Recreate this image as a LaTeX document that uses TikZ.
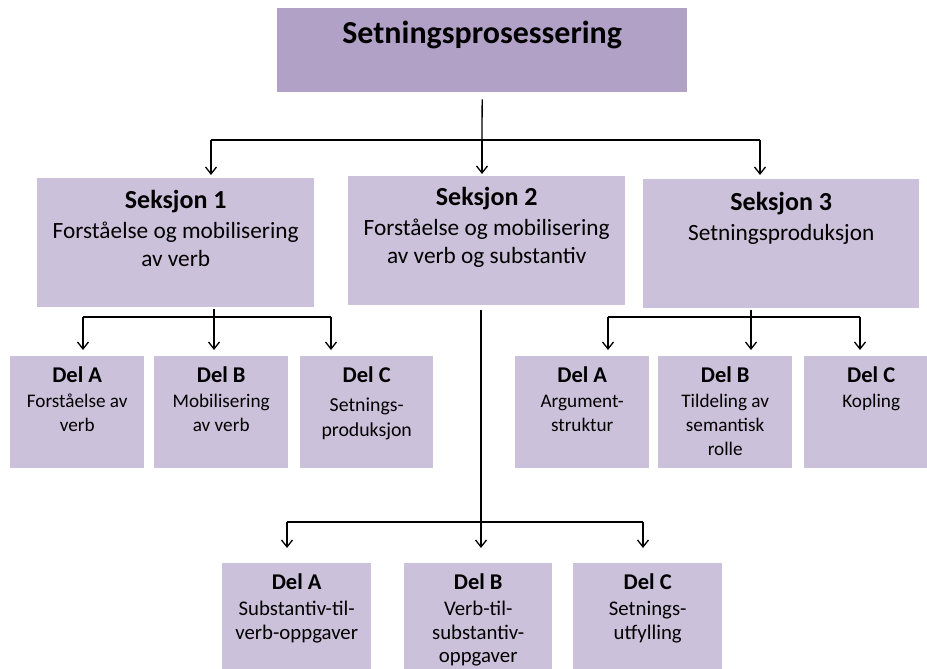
\documentclass[tikz,border=0pt]{standalone}
\usepackage{fontspec}
\setmainfont{Carlito}
\usetikzlibrary{arrows.meta}
\definecolor{boxdark}{HTML}{B2A1C7}
\definecolor{boxlight}{HTML}{CCC1DA}
\newcommand{\sechd}[1]{{\bfseries\fontsize{26}{28}\selectfont #1}}
\newcommand{\delhd}[1]{{\bfseries\fontsize{22.5}{24}\selectfont #1}}
\begin{document}
\begin{tikzpicture}[x=1pt,y=-1pt,
  box/.style={draw=none, inner sep=0, anchor=north west, fill=boxlight},
  secbox/.style={box, minimum width=277pt, minimum height=129pt},
  delbox/.style={box, minimum width=134pt, minimum height=112pt},
  lowbox/.style={box, minimum width=149pt, minimum height=112pt},
  ln/.style={line width=1.3pt, black},
  arr/.style={ln, -{Straight Barb[length=7pt,width=11pt,line width=1.3pt]}},
  ttl/.style={anchor=north, inner sep=0, font=\fontsize{32}{38}\selectfont\bfseries},
  sect/.style={anchor=north, inner sep=0, align=center, font=\fontsize{23.3}{28}\selectfont},
  delt/.style={anchor=north, inner sep=0, align=center, font=\fontsize{19.2}{24}\selectfont},
  delcbig/.style={anchor=north, inner sep=0, align=center, font=\fontsize{19.8}{25}\selectfont},
  lowt/.style={anchor=north, inner sep=0, align=center, font=\fontsize{20.8}{23.5}\selectfont}]
\clip (0,0) rectangle (927,669);
\fill[white] (0,0) rectangle (927,669);

% boxes
\node[box, fill=boxdark, minimum width=410pt, minimum height=84pt] (top) at (277,8) {};
\node[secbox] (s1) at (37,178) {};
\node[secbox] (s2) at (348,176) {};
\node[secbox, minimum width=276pt] (s3) at (643,179) {};
\node[delbox] (a1) at (10,356) {};
\node[delbox] (b1) at (154,356) {};
\node[delbox, minimum width=133pt] (c1) at (300,356) {};
\node[delbox] (a3) at (515,356) {};
\node[delbox] (b3) at (658,356) {};
\node[delbox] (c3) at (804,356) {};
\node[lowbox] (a2) at (222,563) {};
\node[lowbox, minimum width=148pt] (b2) at (404,563) {};
\node[lowbox] (c2) at (573,563) {};

% texts
\node[ttl] (topt) at ([yshift=-13pt]top.north) {Setningsprosessering};
\node[sect] (s1t) at ([yshift=-12pt]s1.north) {\sechd{Seksjon 1}\\[2pt]Forståelse og mobilisering\\av verb};
\node[sect] (s2t) at ([yshift=-11pt]s2.north) {\sechd{Seksjon 2}\\[2pt]Forståelse og mobilisering\\av verb og substantiv};
\node[sect] (s3t) at ([yshift=-13pt]s3.north) {\sechd{Seksjon 3}\\[2pt]Setningsproduksjon};
\node[delt] (a1t) at ([yshift=-11pt]a1.north) {\delhd{Del A}\\[1pt]Forståelse av\\verb};
\node[delt] (b1t) at ([yshift=-11pt]b1.north) {\delhd{Del B}\\[1pt]Mobilisering\\av verb};
\node[delcbig] (c1t) at ([yshift=-11pt]c1.north) {\delhd{Del C}\\[4pt]Setnings-\\produksjon};
\node[delt] (a3t) at ([yshift=-11pt]a3.north) {\delhd{Del A}\\[1pt]Argument-\\struktur};
\node[delt] (b3t) at ([yshift=-11pt]b3.north) {\delhd{Del B}\\[1pt]Tildeling av\\semantisk\\rolle};
\node[delt] (c3t) at ([yshift=-11pt]c3.north) {\delhd{Del C}\\[1pt]Kopling};
\node[lowt] (a2t) at ([yshift=-11pt]a2.north) {\delhd{Del A}\\[2.5pt]Substantiv-til-\\verb-oppgaver};
\node[lowt] (b2t) at ([yshift=-11pt]b2.north) {\delhd{Del B}\\[2.5pt]Verb-til-\\substantiv-\\oppgaver};
\node[lowt] (c2t) at ([yshift=-11pt]c2.north) {\delhd{Del C}\\[2.5pt]Setnings-\\utfylling};

% top fork
\coordinate (h0) at (482,140);
\coordinate (h0l) at (211,140);
\coordinate (h0r) at (760,140);
\draw[ln, shorten <=7pt] (top.south) -- (h0);
\draw[ln] (h0l) -- (h0r);
\draw[arr, shorten >=3pt] (h0l) -- (h0l |- s1.north);
\draw[arr, shorten >=2pt] (h0) -- (h0 |- s2.north);
\draw[arr, shorten >=4pt] (h0r) -- (h0r |- s3.north);

% section 1 fork
\coordinate (f1) at (214,317);
\coordinate (f1l) at (83,317);
\coordinate (f1r) at (331,317);
\draw[ln, shorten <=2pt] (f1 |- s1.south) -- (f1);
\draw[ln] (f1l) -- (f1r);
\draw[arr, shorten >=6pt] (f1l) -- (f1l |- a1.north);
\draw[arr, shorten >=6pt] (f1) -- (f1 |- b1.north);
\draw[arr, shorten >=6pt] (f1r) -- (f1r |- c1.north);

% section 3 fork
\coordinate (f3) at (751,317);
\coordinate (f3l) at (608,317);
\coordinate (f3r) at (860,317);
\draw[ln, shorten <=2pt] (f3 |- s3.south) -- (f3);
\draw[ln] (f3l) -- (f3r);
\draw[arr, shorten >=6pt] (f3l) -- (f3l |- a3.north);
\draw[arr, shorten >=6pt] (f3) -- (f3 |- b3.north);
\draw[arr, shorten >=6pt] (f3r) -- (f3r |- c3.north);

% section 2 fork
\coordinate (f2) at (481,522);
\coordinate (f2l) at (287,522);
\coordinate (f2r) at (643,522);
\draw[ln, shorten <=5pt] (f2 |- s2.south) -- (f2);
\draw[ln] (f2l) -- (f2r);
\draw[arr, shorten >=15pt] (f2l) -- (f2l |- a2.north);
\draw[arr, shorten >=15pt] (f2) -- (f2 |- b2.north);
\draw[arr, shorten >=15pt] (f2r) -- (f2r |- c2.north);
\end{tikzpicture}
\end{document}
